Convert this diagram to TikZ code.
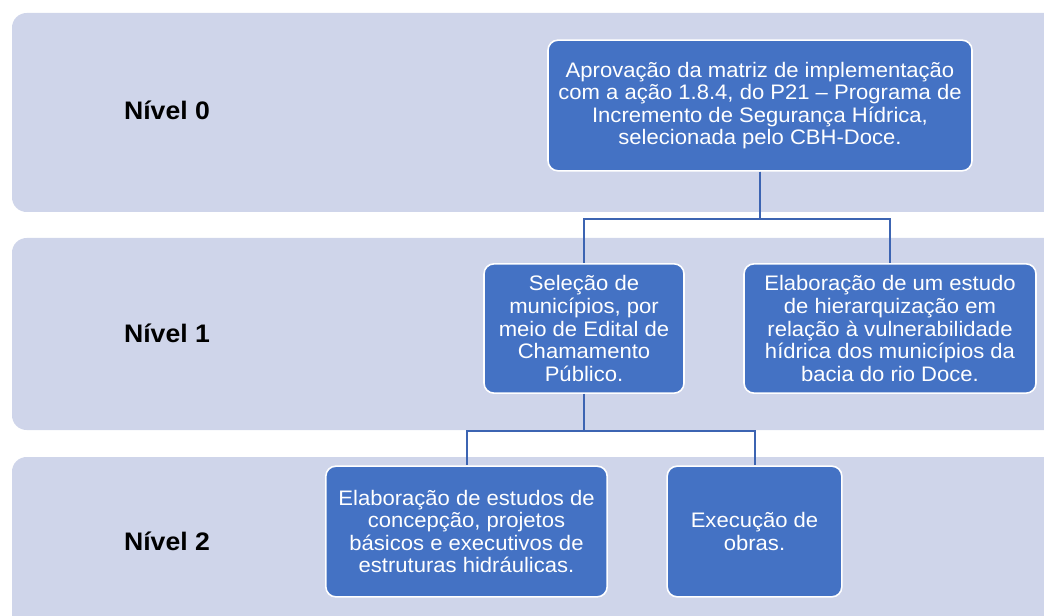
\documentclass[tikz,border=0pt]{standalone}
\usepackage{fontspec}
\setmainfont{Liberation Sans}[FakeStretch=1.05]
\definecolor{bandcol}{RGB}{207,213,234}
\definecolor{boxcol}{RGB}{68,114,196}
\definecolor{linecol}{RGB}{60,100,178}
\def\band(#1,#2){\fill [bandcol,rounded corners=11pt] (12,#1) rectangle (1090,#2);}
\tikzset{
  box/.style={draw=white,line width=1.2pt,fill=boxcol,rounded corners=7.5pt,
    text=white,align=center,inner sep=0pt,
    font=\fontsize{15.75}{16.9}\selectfont},
  level/.style={font=\bfseries\fontsize{19}{21}\selectfont},
  link/.style={draw=linecol,line width=1.5pt}
}

\begin{document}
\begin{tikzpicture}[x=0.75pt,y=-0.75pt]
  \useasboundingbox (0,0) rectangle (1044,616);
  \band(13,212) \band(238,430) \band(457,660)
  \node[level] (n0) at (167,110) {Nível 0};
  \node[level] (n1) at (167,333) {Nível 1};
  \node[level] (n2) at (167,541) {Nível 2};
  % boxes
  \node[box,minimum width=318pt,minimum height=98pt] (b0) at (760,105.5)
    {Aprovação da matriz de implementação\\com a ação 1.8.4, do P21 -- Programa de\\Incremento de Segurança Hídrica,\\selecionada pelo CBH-Doce.};
  \node[box,minimum width=150pt,minimum height=97pt] (b1a) at (584,328.5)
    {Seleção de\\municípios, por\\meio de Edital de\\Chamamento\\Público.};
  \node[box,minimum width=219pt,minimum height=97pt] (b1b) at (890,328.5)
    {Elaboração de um estudo\\de hierarquização em\\relação à vulnerabilidade\\hídrica dos municípios da\\bacia do rio Doce.};
  \node[box,minimum width=211pt,minimum height=98pt] (b2a) at (466.5,531.5)
    {Elaboração de estudos de\\concepção, projetos\\básicos e executivos de\\estruturas hidráulicas.};
  \node[box,minimum width=131pt,minimum height=98pt] (b2b) at (754.5,531.5)
    {Execução de\\obras.};
  % connectors
  \draw[link] (b0.south) -- ++(0,47) -| (b1a.north);
  \draw[link] (b0.south) -- ++(0,47) -| (b1b.north);
  \draw[link] (b1a.south) -- ++(0,37) -| (b2a.north);
  \draw[link] (b1a.south) -- ++(0,37) -| (b2b.north);
\end{tikzpicture}
\end{document}
